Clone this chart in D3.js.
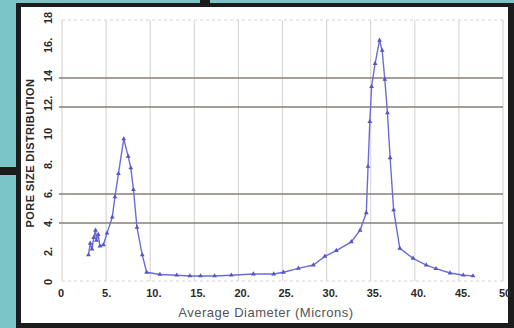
<!DOCTYPE html>
<html>
<head>
<meta charset="utf-8">
<script src="https://cdn.jsdelivr.net/npm/d3@7"></script>
<style>
    body { margin: 0; background: #7cc5c7; }
    text { font-family: "Liberation Sans", Arial, sans-serif; }
</style>
</head>
<body>
<svg id="svg1" width="514" height="328"></svg>
<script>
// pore size distribution
var diam = [3.0, 3.2, 3.4, 3.6, 3.8, 3.9, 4.1, 4.3, 4.7, 5.1, 5.7, 6.0, 6.4, 7.0, 7.5, 7.8, 8.1, 8.5, 9.1, 9.6,
    11.1, 13.0, 14.5, 15.7, 17.3, 19.2, 21.7, 24.0, 25.1, 26.8, 28.5, 29.8, 31.1, 32.8, 33.8, 34.5,
    34.7, 34.9, 35.1, 35.5, 36.0, 36.3, 36.6, 36.9, 37.2, 37.6, 38.3, 39.8, 41.3, 42.4, 44.0, 45.5, 46.6];
var dist = [1.8, 2.6, 2.2, 3.0, 3.5, 2.8, 3.2, 2.4, 2.5, 3.3, 4.4, 5.8, 7.4, 9.8, 8.6, 7.8, 6.3, 3.7, 1.8, 0.6,
    0.45, 0.4, 0.35, 0.35, 0.35, 0.4, 0.48, 0.48, 0.6, 0.87, 1.1, 1.7, 2.1, 2.7, 3.5, 4.7,
    7.9, 11.0, 13.4, 15.0, 16.6, 15.9, 13.9, 11.6, 8.5, 4.9, 2.25, 1.56, 1.1, 0.85, 0.55, 0.4, 0.35];
var xTicks = [0, 5, 10, 15, 20, 25, 30, 35, 40, 45, 50];
var xTickLabels = ["0", "5.", "10.", "15.", "20.", "25.", "30.", "35.", "40.", "45.", "50"];
var yTicks = [0, 2, 4, 6, 8, 10, 12, 14, 16, 18];
var yTickLabels = ["0", "2.", "4.", "6.", "8.", "10", "12.", "14", "16.", "18"];
var darkGrid = [4, 6, 12, 14];

var svg = d3.select("#svg1"),
    margin = { top: 20, right: 11, bottom: 47, left: 62 },
    width = +svg.attr("width") - margin.left - margin.right,
    height = +svg.attr("height") - margin.top - margin.bottom;

// frame
svg.append("rect").attr("width", 514).attr("height", 328).attr("fill", "#7cc5c7");
svg.append("rect").attr("x", 16).attr("y", 3).attr("width", 498).attr("height", 325).attr("fill", "#1c1c1c");
svg.append("rect").attr("x", 0).attr("y", 167).attr("width", 16).attr("height", 8).attr("fill", "#1c1c1c");
svg.append("rect").attr("x", 200).attr("y", 0).attr("width", 10).attr("height", 4).attr("fill", "#1c1c1c");
svg.append("rect").attr("x", 21).attr("y", 7).attr("width", 487).attr("height", 316).attr("fill", "#ffffff");

var g = svg.append("g").attr("transform", "translate(" + margin.left + "," + margin.top + ")");

var x = d3.scaleLinear().domain([0, 50]).range([0, width]);
var y = d3.scaleLinear().domain([0, 18]).range([height, 0]);

// vertical grid
g.selectAll(".vgrid")
    .data(xTicks)
    .enter().append("line")
    .attr("x1", function (d) { return x(d); })
    .attr("x2", function (d) { return x(d); })
    .attr("y1", 0)
    .attr("y2", height)
    .attr("stroke", "#ddd6d6")
    .attr("stroke-width", 1.2);

// top and bottom dashed borders
g.selectAll(".edge")
    .data([0, 18])
    .enter().append("line")
    .attr("x1", 0)
    .attr("x2", width)
    .attr("y1", function (d) { return y(d); })
    .attr("y2", function (d) { return y(d); })
    .attr("stroke", "#d8d2d2")
    .attr("stroke-dasharray", "3,3");

g.selectAll(".hgrid")
    .data(darkGrid)
    .enter().append("line")
    .attr("x1", -3)
    .attr("x2", width)
    .attr("y1", function (d) { return y(d); })
    .attr("y2", function (d) { return y(d); })
    .attr("stroke", "#8a7e78")
    .attr("stroke-width", 1.5);

// tick labels
g.selectAll(".xlab")
    .data(xTicks)
    .enter().append("text")
    .attr("x", function (d) { return x(d); })
    .attr("y", height + 16)
    .attr("text-anchor", "start")
    .attr("dx", -4)
    .style("font-size", "11px")
    .style("font-weight", "bold")
    .attr("fill", "#2a2a2a")
    .text(function (d, i) { return xTickLabels[i]; });

g.selectAll(".ylab")
    .data(yTicks)
    .enter().append("text")
    .attr("transform", function (d) { return "translate(-10," + y(d) + ") rotate(-90)"; })
    .attr("text-anchor", "start")
    .attr("dx", -4)
    .style("font-size", "11px")
    .style("font-weight", "bold")
    .attr("fill", "#2a2a2a")
    .text(function (d, i) { return yTickLabels[i]; });

// axis titles
svg.append("text")
    .attr("transform", "translate(34,153) rotate(-90)")
    .attr("text-anchor", "middle")
    .style("font-size", "11px")
    .style("font-weight", "bold")
    .style("letter-spacing", "0.4px")
    .attr("fill", "#2a2a2a")
    .text("PORE SIZE DISTRIBUTION");

svg.append("text")
    .attr("x", 266)
    .attr("y", 317)
    .attr("text-anchor", "middle")
    .style("font-size", "13px")
    .style("letter-spacing", "0.5px")
    .attr("fill", "#555")
    .text("Average Diameter (Microns)");

// the curve
var pts = diam.map(function (d, i) { return [d, dist[i]]; });

var line = d3.line()
    .x(function (d) { return x(d[0]); })
    .y(function (d) { return y(d[1]); });

g.append("path")
    .datum(pts)
    .attr("d", line)
    .attr("fill", "none")
    .attr("stroke", "#6c6cd6")
    .attr("stroke-width", 1.4);

g.selectAll(".pt")
    .data(pts)
    .enter().append("path")
    .attr("transform", function (d) { return "translate(" + x(d[0]) + "," + y(d[1]) + ")"; })
    .attr("d", d3.symbol().type(d3.symbolTriangle).size(10))
    .attr("fill", "#5555c8");
</script>
</body>
</html>
